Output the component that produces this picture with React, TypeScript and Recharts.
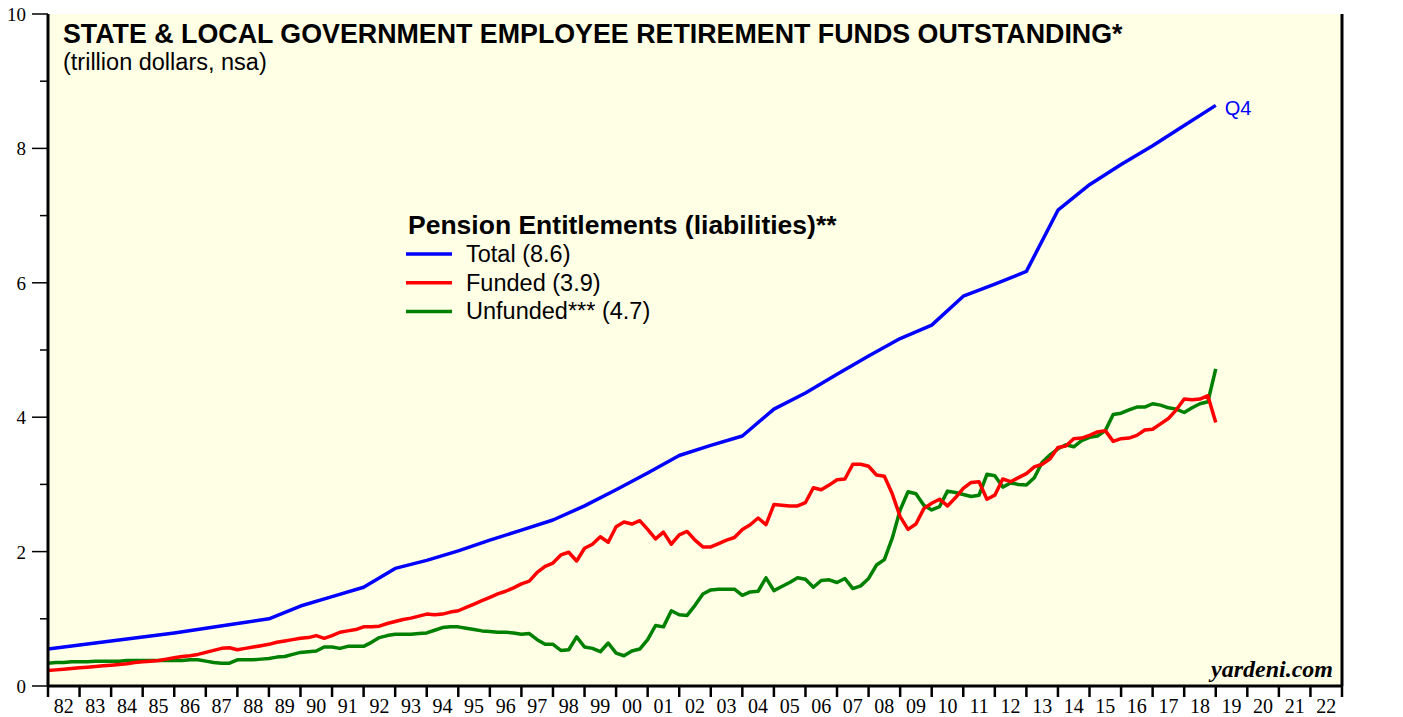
import React from 'react';
import { LineChart, Line, XAxis, YAxis, CartesianGrid } from 'recharts';

const START_YEAR = 1982;
const END_YEAR = 2023;

// quarterly, starting 1982.0, step 0.25 year
const fundedValues = [
  0.23, 0.24, 0.25, 0.26, 0.27, 0.28, 0.29, 0.30, 0.31, 0.32,
  0.33, 0.35, 0.36, 0.37, 0.38, 0.40, 0.42, 0.44, 0.45, 0.47,
  0.50, 0.53, 0.56, 0.57, 0.54, 0.56, 0.58, 0.60, 0.62, 0.65,
  0.67, 0.69, 0.71, 0.72, 0.75, 0.71, 0.75, 0.80, 0.82, 0.84,
  0.88, 0.88, 0.89, 0.93, 0.96, 0.99, 1.01, 1.04, 1.07, 1.06,
  1.07, 1.10, 1.12, 1.17, 1.22, 1.27, 1.32, 1.37, 1.41, 1.46,
  1.52, 1.56, 1.69, 1.78, 1.83, 1.95, 1.99, 1.86, 2.05, 2.11,
  2.22, 2.14, 2.37, 2.44, 2.41, 2.46, 2.33, 2.19, 2.29, 2.11,
  2.25, 2.30, 2.17, 2.07, 2.07, 2.12, 2.17, 2.21, 2.33, 2.40,
  2.50, 2.40, 2.70, 2.69, 2.68, 2.68, 2.73, 2.95, 2.92, 2.99,
  3.07, 3.08, 3.30, 3.30, 3.27, 3.14, 3.12, 2.86, 2.52, 2.33,
  2.41, 2.64, 2.72, 2.78, 2.68, 2.80, 2.94, 3.03, 3.04, 2.78,
  2.84, 3.08, 3.04, 3.10, 3.16, 3.26, 3.30, 3.38, 3.55, 3.57,
  3.68, 3.69, 3.73, 3.78, 3.80, 3.64, 3.68, 3.69, 3.73, 3.81,
  3.82, 3.90, 3.98, 4.11, 4.27, 4.26, 4.27, 4.32, 3.92,
];

const unfundedValues = [
  0.34, 0.35, 0.35, 0.36, 0.36, 0.36, 0.37, 0.37, 0.37, 0.37,
  0.38, 0.38, 0.38, 0.38, 0.38, 0.38, 0.38, 0.38, 0.39, 0.39,
  0.37, 0.35, 0.34, 0.34, 0.39, 0.39, 0.39, 0.40, 0.41, 0.43,
  0.44, 0.47, 0.50, 0.51, 0.52, 0.58, 0.58, 0.56, 0.59, 0.59,
  0.59, 0.65, 0.72, 0.75, 0.77, 0.77, 0.77, 0.78, 0.79, 0.83,
  0.87, 0.88, 0.88, 0.86, 0.84, 0.82, 0.81, 0.80, 0.80, 0.79,
  0.77, 0.78, 0.69, 0.62, 0.62, 0.53, 0.54, 0.73, 0.58, 0.56,
  0.51, 0.64, 0.49, 0.45, 0.52, 0.55, 0.69, 0.90, 0.88, 1.12,
  1.06, 1.05, 1.20, 1.37, 1.43, 1.44, 1.44, 1.44, 1.35, 1.40,
  1.41, 1.61, 1.42, 1.48, 1.54, 1.61, 1.59, 1.47, 1.57, 1.58,
  1.54, 1.60, 1.45, 1.49, 1.60, 1.80, 1.88, 2.20, 2.62, 2.89,
  2.86, 2.69, 2.62, 2.67, 2.90, 2.88, 2.85, 2.82, 2.84, 3.15,
  3.13, 2.96, 3.02, 3.00, 2.99, 3.10, 3.33, 3.44, 3.53, 3.59,
  3.56, 3.65, 3.70, 3.72, 3.80, 4.04, 4.06, 4.11, 4.15, 4.15,
  4.20, 4.18, 4.14, 4.12, 4.07, 4.14, 4.20, 4.23, 4.72,
];

const totalYears = [
  1982, 1983, 1984, 1985, 1986, 1987, 1988, 1989,
  1990, 1991, 1992, 1993, 1994, 1995, 1996, 1997, 1998, 1999,
  2000, 2001, 2002, 2003, 2004, 2005, 2006, 2007, 2008, 2009,
  2010, 2011, 2012, 2013, 2014, 2015, 2016, 2017, 2018, 2019,
];
const totalValues = [
  0.55, 0.61, 0.67, 0.73, 0.79, 0.86, 0.93, 1.00,
  1.19, 1.33, 1.47, 1.75, 1.87, 2.01, 2.17, 2.32, 2.47, 2.68,
  2.92, 3.17, 3.43, 3.58, 3.72, 4.12, 4.36, 4.64, 4.91, 5.17,
  5.37, 5.80, 5.98, 6.17, 7.08, 7.46, 7.76, 8.04, 8.34, 8.64,
];

const yTicks = [0, 1, 2, 3, 4, 5, 6, 7, 8, 9, 10];
const yearTickValues: number[] = [];
for (let y = START_YEAR; y <= END_YEAR; y += 0.5) yearTickValues.push(y);

const fundedData = fundedValues.map((v, i) => ({ x: START_YEAR + i * 0.25, v }));
const unfundedData = unfundedValues.map((v, i) => ({ x: START_YEAR + i * 0.25, v }));
const totalData = totalYears.map((yr, i) => ({ x: yr, v: totalValues[i] }));

const BLUE = '#0000FF';
const RED = '#FF0000';
const GREEN = '#008000';
const BG = '#FFFFE6';

const legendItems = [
  { name: 'Total', values: totalValues, color: BLUE },
  { name: 'Funded', values: fundedValues, color: RED },
  { name: 'Unfunded***', values: unfundedValues, color: GREEN },
];

const SERIF = '"Liberation Serif", "Times New Roman", serif';
const SANS = '"Liberation Sans", Arial, sans-serif';

const XTick = (props: any) => {
  const { x, y, payload } = props;
  const val = payload.value as number;
  if (Number.isInteger(val)) {
    return <line x1={x} x2={x} y1={y} y2={y + 11} stroke="#000" strokeWidth={2.5} />;
  }
  const yr = Math.floor(val) % 100;
  return (
    <text x={x} y={y + 27} textAnchor="middle" fontFamily={SERIF} fontSize={20} fill="#000">
      {String(yr).padStart(2, '0')}
    </text>
  );
};

const YTickLeft = (props: any) => {
  const { x, y, payload } = props;
  const v = payload.value as number;
  const major = v % 2 === 0;
  return (
    <g>
      <line x1={x - (major ? 16 : 8)} x2={x} y1={y} y2={y} stroke="#000" strokeWidth={1.5} />
      {major && (
        <text x={x - 22} y={y + 7} textAnchor="end" fontFamily={SERIF} fontSize={19} fill="#000">
          {v}
        </text>
      )}
    </g>
  );
};

const YTickRight = (props: any) => {
  const { x, y, payload } = props;
  const v = payload.value as number;
  const major = v % 2 === 0;
  return (
    <g>
      <line x1={x} x2={x + (major ? 16 : 8)} y1={y} y2={y} stroke="#000" strokeWidth={1.5} />
      {major && (
        <text x={x + 23} y={y + 7} textAnchor="start" fontFamily={SERIF} fontSize={19} fill="#000">
          {v}
        </text>
      )}
    </g>
  );
};

const lastIdx = totalValues.length - 1;

export default function App() {
  return (
    <div style={{ position: 'absolute', left: 0, top: 0, width: 1403, height: 717, background: '#fff' }}>
      <LineChart width={1403} height={717} margin={{ top: 14, right: 0, bottom: 0, left: 0 }}>
        <CartesianGrid fill={BG} horizontal={false} vertical={false} stroke="none" />
        <XAxis
          xAxisId="bottom"
          dataKey="x"
          type="number"
          domain={[START_YEAR, END_YEAR]}
          ticks={yearTickValues}
          interval={0}
          height={31}
          tickSize={0}
          tickMargin={0}
          tickLine={false}
          axisLine={{ stroke: '#000', strokeWidth: 3 }}
          tick={(p: any) => <XTick {...p} />}
          allowDataOverflow
        />
        <XAxis
          xAxisId="top"
          orientation="top"
          dataKey="x"
          type="number"
          domain={[START_YEAR, END_YEAR]}
          height={0}
          tick={false}
          tickLine={false}
          axisLine={{ stroke: '#000', strokeWidth: 3 }}
        />
        <YAxis
          yAxisId="left"
          type="number"
          domain={[0, 10]}
          ticks={yTicks}
          interval={0}
          width={48}
          tickSize={0}
          tickMargin={0}
          tickLine={false}
          axisLine={{ stroke: '#000', strokeWidth: 3 }}
          tick={(p: any) => <YTickLeft {...p} />}
        />
        <YAxis
          yAxisId="right"
          orientation="right"
          type="number"
          domain={[0, 10]}
          ticks={yTicks}
          interval={0}
          width={61}
          tickSize={0}
          tickMargin={0}
          tickLine={false}
          axisLine={{ stroke: '#000', strokeWidth: 3 }}
          tick={(p: any) => <YTickRight {...p} />}
        />
        <Line
          xAxisId="bottom"
          yAxisId="left"
          data={unfundedData}
          dataKey="v"
          type="linear"
          stroke={GREEN}
          strokeWidth={3.5}
          strokeLinejoin="round"
          dot={false}
          isAnimationActive={false}
        />
        <Line
          xAxisId="bottom"
          yAxisId="left"
          data={fundedData}
          dataKey="v"
          type="linear"
          stroke={RED}
          strokeWidth={3.5}
          strokeLinejoin="round"
          dot={false}
          isAnimationActive={false}
        />
        <Line
          xAxisId="bottom"
          yAxisId="left"
          data={totalData}
          dataKey="v"
          type="linear"
          stroke={BLUE}
          strokeWidth={3.5}
          strokeLinejoin="round"
          dot={false}
          isAnimationActive={false}
          label={(p: any) =>
            p.index === lastIdx ? (
              <text x={p.x + 9} y={p.y + 10} fill={BLUE} fontFamily={SANS} fontSize={20}>
                Q4
              </text>
            ) : (
              <g />
            )
          }
        />
      </LineChart>
      <svg
        width={1403}
        height={717}
        style={{ position: 'absolute', left: 0, top: 0, pointerEvents: 'none' }}
      >
        <text x={63} y={43} fontFamily={SANS} fontWeight="bold" fontSize={26.8} fill="#000">
          STATE &amp; LOCAL GOVERNMENT EMPLOYEE RETIREMENT FUNDS OUTSTANDING*
        </text>
        <text x={63} y={70} fontFamily={SANS} fontSize={23.5} fill="#000">
          (trillion dollars, nsa)
        </text>
        <text x={408} y={234} fontFamily={SANS} fontWeight="bold" fontSize={26.5} fill="#000">
          Pension Entitlements (liabilities)**
        </text>
        {legendItems.map((it, i) => (
          <g key={it.name}>
            <line x1={406} x2={452} y1={254 + i * 28.7} y2={254 + i * 28.7} stroke={it.color} strokeWidth={3.5} />
            <text x={466} y={262 + i * 28.7} fontFamily={SANS} fontSize={23.5} fill="#000">
              {`${it.name} (${it.values[it.values.length - 1].toFixed(1)})`}
            </text>
          </g>
        ))}
        <text
          x={1333}
          y={677}
          textAnchor="end"
          fontFamily={SERIF}
          fontWeight="bold"
          fontStyle="italic"
          fontSize={24}
          fill="#000"
        >
          yardeni.com
        </text>
      </svg>
    </div>
  );
}
